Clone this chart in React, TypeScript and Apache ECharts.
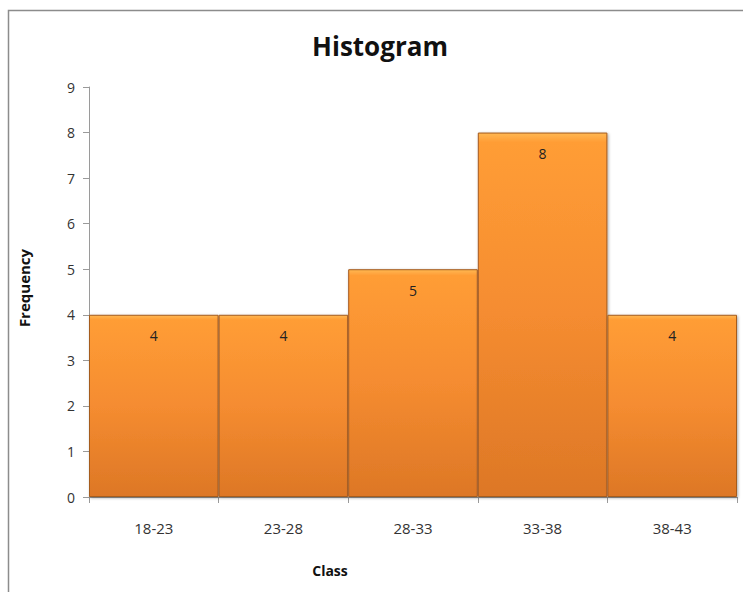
import React, { useEffect, useRef } from "react";
import * as echarts from "echarts";

const categories = ["18-23", "23-28", "28-33", "33-38", "38-43"];
const frequencies = [4, 4, 5, 8, 4];
const yTicks = { min: 0, max: 9, interval: 1 };

export default function App() {
  const ref = useRef<HTMLDivElement>(null);
  useEffect(() => {
    if (!ref.current) return;
    const chart = echarts.init(ref.current, null, { renderer: "svg" });
    const font = "'Open Sans', 'Liberation Sans', sans-serif";
    chart.setOption({
      animation: false,
      backgroundColor: "#ffffff",
      textStyle: { fontFamily: font },
      title: {
        text: "Histogram",
        left: 375,
        textAlign: "center",
        top: 28,
        textStyle: { fontSize: 26, fontWeight: "bold", color: "#111", fontFamily: font },
      },
      graphic: [
        {
          type: "rect",
          shape: { x: 8.5, y: 10.5, width: 800, height: 700 },
          style: { fill: "none", stroke: "#8c8c8c", lineWidth: 1.5 },
          silent: true,
        },
        {
          type: "text",
          x: 330,
          y: 570,
          style: {
            text: "Class",
            fontSize: 14,
            fontWeight: "bold",
            fill: "#111",
            fontFamily: font,
            textAlign: "center",
            textVerticalAlign: "middle",
          },
          silent: true,
        },
      ],
      grid: { left: 89, right: 6, top: 87, bottom: 95 },
      xAxis: {
        type: "category",
        data: categories,
        axisLine: { lineStyle: { color: "#9a9a9a", width: 1 } },
        axisTick: { show: true, length: 6, lineStyle: { color: "#9a9a9a" } },
        axisLabel: { fontSize: 15, color: "#333", margin: 23, fontFamily: font },
      },
      yAxis: {
        type: "value",
        min: yTicks.min,
        max: yTicks.max,
        interval: yTicks.interval,
        name: "Frequency",
        nameLocation: "middle",
        nameGap: 58,
        nameRotate: 90,
        nameTextStyle: { fontSize: 15, fontWeight: "bold", color: "#111", fontFamily: font, padding: [0, 0, 0, 8] },
        axisLine: { show: true, lineStyle: { color: "#9a9a9a", width: 1 } },
        axisTick: { show: true, length: 6, lineStyle: { color: "#9a9a9a" } },
        axisLabel: { fontSize: 14, color: "#333", margin: 14, fontFamily: font },
        splitLine: { show: false },
      },
      series: [
        {
          type: "bar",
          data: frequencies,
          barCategoryGap: "0%",
          itemStyle: {
            color: new echarts.graphic.LinearGradient(0, 0, 0, 1, [
              { offset: 0, color: "#FFB852" },
              { offset: 0.025, color: "#FF9D36" },
              { offset: 0.5, color: "#F58C30" },
              { offset: 1, color: "#DD7726" },
            ]),
            borderColor: "#A55B1E",
            borderWidth: 1,
            shadowBlur: 3,
            shadowColor: "rgba(0,0,0,0.35)",
            shadowOffsetX: 1,
            shadowOffsetY: 1,
          },
          label: {
            show: true,
            position: "insideTop",
            distance: 14,
            fontSize: 14,
            color: "#222",
            fontFamily: font,
          },
        },
      ],
    });
    return () => chart.dispose();
  }, []);
  return (
    <div
      ref={ref}
      style={{ position: "absolute", left: 0, top: 0, width: 743, height: 592 }}
    />
  );
}
